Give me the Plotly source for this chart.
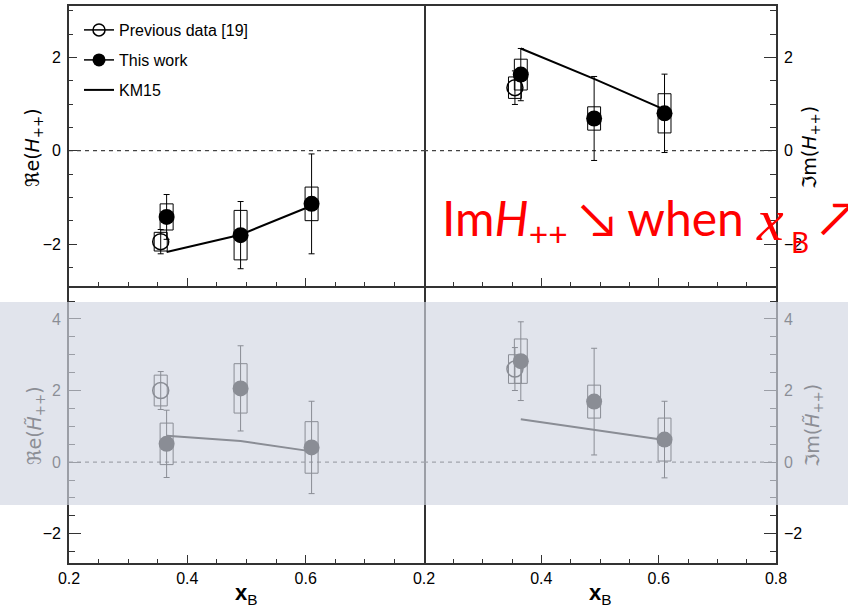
import plotly.graph_objects as go

W, H = 848, 606

# ---- data -------------------------------------------------------------
xb_prev = [0.355]
xb_new = [0.365, 0.49, 0.61]
xb_km = [0.365, 0.49, 0.61]

# Re(H++)
re_h_prev = [-1.95]
re_h_prev_stat = [0.26]
re_h_prev_sys = [0.20]
re_h_new = [-1.42, -1.81, -1.14]
re_h_new_stat = [0.48, 0.72, 1.07]
re_h_new_sys = [0.28, 0.53, 0.36]
re_h_km = [-2.17, -1.80, -1.18]

# Im(H++)
im_h_prev = [1.35]
im_h_prev_stat = [0.36]
im_h_prev_sys = [0.23]
im_h_new = [1.63, 0.69, 0.80]
im_h_new_stat = [0.56, 0.90, 0.84]
im_h_new_sys = [0.33, 0.25, 0.42]
im_h_km = [2.19, 1.54, 0.88]

# Re(H~++)
re_ht_prev = [2.00]
re_ht_prev_stat = [0.53]
re_ht_prev_sys = [0.43]
re_ht_new = [0.51, 2.06, 0.41]
re_ht_new_stat = [0.94, 1.19, 1.29]
re_ht_new_sys = [0.58, 0.69, 0.72]
re_ht_km = [0.74, 0.59, 0.30]

# Im(H~++)
im_ht_prev = [2.60]
im_ht_prev_stat = [0.60]
im_ht_prev_sys = [0.40]
im_ht_new = [2.82, 1.69, 0.63]
im_ht_new_stat = [1.10, 1.49, 1.07]
im_ht_new_sys = [0.62, 0.46, 0.60]
im_ht_km = [1.20, 0.91, 0.62]

x_ticks_left = [0.2, 0.4, 0.6]
x_ticks_right = [0.2, 0.4, 0.6, 0.8]
y_ticks_top = [-2, 0, 2]
y_ticks_bottom = [-2, 0, 2, 4]

BOX_HALF = 0.011
INK = "black"
FRAME = "#333"
RED = "#ff0000"

fig = go.Figure()


def box_path(xs, ys, sys):
    px, py = [], []
    for x, y, s in zip(xs, ys, sys):
        px += [x - BOX_HALF, x + BOX_HALF, x + BOX_HALF, x - BOX_HALF, x - BOX_HALF, None]
        py += [y - s, y - s, y + s, y + s, y - s, None]
    return px, py


def panel(xa, ya, prev, prev_stat, prev_sys, new, new_stat, new_sys, km):
    # zero reference line
    fig.add_trace(go.Scatter(x=[0.2, 0.8], y=[0, 0], mode="lines", xaxis=xa, yaxis=ya,
                             line=dict(color="#444", width=1.2, dash="4px,4px"),
                             showlegend=False, hoverinfo="skip"))
    # systematic boxes
    for xs, ys, ss in ((xb_prev, prev, prev_sys), (xb_new, new, new_sys)):
        bx, by = box_path(xs, ys, ss)
        fig.add_trace(go.Scatter(x=bx, y=by, mode="lines", xaxis=xa, yaxis=ya,
                                 line=dict(color=INK, width=1), showlegend=False,
                                 hoverinfo="skip"))
    # KM15 model
    fig.add_trace(go.Scatter(x=xb_km, y=km, mode="lines", xaxis=xa, yaxis=ya,
                             line=dict(color=INK, width=2), showlegend=False))
    # previous data
    fig.add_trace(go.Scatter(x=xb_prev, y=prev, mode="markers", xaxis=xa, yaxis=ya,
                             marker=dict(symbol="circle-open", size=16, color=INK,
                                         line=dict(width=1.5)),
                             error_y=dict(type="data", array=prev_stat, color=INK,
                                          thickness=1, width=3),
                             showlegend=False))
    # this work
    fig.add_trace(go.Scatter(x=xb_new, y=new, mode="markers", xaxis=xa, yaxis=ya,
                             marker=dict(symbol="circle", size=16, color=INK),
                             error_y=dict(type="data", array=new_stat, color=INK,
                                          thickness=1, width=3),
                             showlegend=False))


panel("x", "y", re_h_prev, re_h_prev_stat, re_h_prev_sys,
      re_h_new, re_h_new_stat, re_h_new_sys, re_h_km)
panel("x2", "y2", im_h_prev, im_h_prev_stat, im_h_prev_sys,
      im_h_new, im_h_new_stat, im_h_new_sys, im_h_km)
panel("x3", "y3", re_ht_prev, re_ht_prev_stat, re_ht_prev_sys,
      re_ht_new, re_ht_new_stat, re_ht_new_sys, re_ht_km)
panel("x4", "y4", im_ht_prev, im_ht_prev_stat, im_ht_prev_sys,
      im_ht_new, im_ht_new_stat, im_ht_new_sys, im_ht_km)

# legend entries (one legend each so the rows can be spaced freely)
fig.add_trace(go.Scatter(x=[None], y=[None], mode="lines+markers", name="Previous data [19]",
                         line=dict(color=INK, width=1.5),
                         marker=dict(symbol="circle-open", size=12, color=INK, line=dict(width=1.5)),
                         legend="legend"))
fig.add_trace(go.Scatter(x=[None], y=[None], mode="lines+markers", name="This work",
                         line=dict(color=INK, width=1.5),
                         marker=dict(symbol="circle", size=13, color=INK),
                         legend="legend2"))
fig.add_trace(go.Scatter(x=[None], y=[None], mode="lines", name="KM15",
                         line=dict(color=INK, width=2), legend="legend3"))


def px_x(p):
    return p / W


def px_y(p):
    return 1 - p / H


dom_left = [px_x(69), px_x(424)]
dom_right = [px_x(424), px_x(776)]
dom_top = [px_y(286), px_y(6)]
dom_bot = [px_y(562.7), px_y(286)]

tick_font = dict(family="Liberation Sans, Arial, sans-serif", size=16, color="black")


def xaxis(dom, anchor, labels, tickvals, mirror):
    return dict(domain=dom, anchor=anchor, range=[0.2, 0.8], ticks="inside", ticklen=8,
                tickcolor=FRAME, tickwidth=1.2, tickvals=tickvals,
                ticktext=[f"{v:.1f}" for v in tickvals],
                showticklabels=labels, tickfont=tick_font,
                minor=dict(ticks="inside", ticklen=4, dtick=0.05, tickcolor=FRAME,
                           tickwidth=1.2),
                showline=True, linecolor=FRAME, linewidth=1.6, mirror=mirror,
                showgrid=False, zeroline=False)


def yaxis(dom, anchor, rng, tickvals, side, ticklen, mirror):
    return dict(domain=dom, anchor=anchor, range=rng, side=side, ticks="inside",
                ticklen=ticklen, tickcolor=FRAME, tickwidth=1.2, tickvals=tickvals,
                ticktext=[("\u2212" + str(-v)) if v < 0 else str(v) for v in tickvals],
                tickfont=tick_font, ticklabelstandoff=3,
                minor=dict(ticks="inside", ticklen=ticklen / 2, dtick=0.5, tickcolor=FRAME,
                           tickwidth=1.2),
                showline=True, linecolor=FRAME, linewidth=1.6, mirror=mirror,
                showgrid=False, zeroline=False)


legend_common = dict(xanchor="left", yanchor="middle", bgcolor="rgba(0,0,0,0)",
                     borderwidth=0, itemwidth=30,
                     font=dict(family="Liberation Sans, Arial, sans-serif", size=16,
                               color="black"))

title_font = dict(family="DejaVu Sans, sans-serif", size=19, color="black")
faded = "#8c8e95"
title_font_faded = dict(family="DejaVu Sans, sans-serif", size=19, color=faded)
xb_font = dict(family="Liberation Sans, Arial, sans-serif", size=22, color="black")
red_sans = "Lato, Open Sans, sans-serif"


def note(x, y, text, family, size, color=RED):
    return dict(x=px_x(x), y=px_y(y), xref="paper", yref="paper", text=text,
                showarrow=False, xanchor="left", yanchor="middle",
                font=dict(family=family, size=size, color=color))


annotations = [
    dict(x=px_x(33), y=px_y(148), xref="paper", yref="paper", textangle=-90,
         text="\u211ce(<i>H</i><sub>++</sub>)", showarrow=False, font=title_font,
         xanchor="center", yanchor="middle"),
    dict(x=px_x(810), y=px_y(148), xref="paper", yref="paper", textangle=-90,
         text="\u2111m(<i>H</i><sub>++</sub>)", showarrow=False, font=title_font,
         xanchor="center", yanchor="middle"),
    dict(x=px_x(35), y=px_y(426), xref="paper", yref="paper", textangle=-90,
         text="\u211ce(<i>H\u0303</i><sub>++</sub>)", showarrow=False,
         font=title_font_faded, xanchor="center", yanchor="middle"),
    dict(x=px_x(813), y=px_y(426), xref="paper", yref="paper", textangle=-90,
         text="\u2111m(<i>H\u0303</i><sub>++</sub>)", showarrow=False,
         font=title_font_faded, xanchor="center", yanchor="middle"),
    dict(x=px_x(247), y=px_y(594), xref="paper", yref="paper",
         text="<b>x</b><sub>B</sub>", showarrow=False, font=xb_font,
         xanchor="center", yanchor="middle"),
    dict(x=px_x(600), y=px_y(594), xref="paper", yref="paper",
         text="<b>x</b><sub>B</sub>", showarrow=False, font=xb_font,
         xanchor="center", yanchor="middle"),
    # red remark: Im H++ decreases when x_B increases
    note(440, 221, "Im<i>H</i><sub>++</sub> \u2198 when", red_sans, 48),
    note(754, 220, "<i>x</i>", "Liberation Serif, serif", 60),
    note(789, 242, "B", red_sans, 28),
    note(818, 216, "\u2197", red_sans, 48),
]

fig.update_layout(
    width=W, height=H,
    margin=dict(l=0, r=0, t=0, b=0, autoexpand=False),
    paper_bgcolor="white", plot_bgcolor="white",
    xaxis=xaxis(dom_left, "y", False, x_ticks_left, True),
    yaxis=yaxis(dom_top, "x", [-2.9, 3.1], y_ticks_top, "left", 8, True),
    xaxis2=xaxis(dom_right, "y2", False, x_ticks_right, True),
    yaxis2=yaxis(dom_top, "x2", [-2.9, 3.1], y_ticks_top, "right", 12, False),
    xaxis3=xaxis(dom_left, "y3", True, x_ticks_left, False),
    yaxis3=yaxis(dom_bot, "x3", [-2.81, 4.92], y_ticks_bottom, "left", 12, True),
    xaxis4=xaxis(dom_right, "y4", True, x_ticks_right, False),
    yaxis4=yaxis(dom_bot, "x4", [-2.81, 4.92], y_ticks_bottom, "right", 12, False),
    legend=dict(x=px_x(79), y=px_y(30), **legend_common),
    legend2=dict(x=px_x(79), y=px_y(60), **legend_common),
    legend3=dict(x=px_x(79), y=px_y(90), **legend_common),
    annotations=annotations,
    shapes=[dict(type="rect", xref="paper", yref="paper", x0=0, x1=1,
                 y0=px_y(505), y1=px_y(302), fillcolor="rgba(210,214,226,0.66)",
                 line=dict(width=0), layer="above")],
)

fig.write_html("out.html")
